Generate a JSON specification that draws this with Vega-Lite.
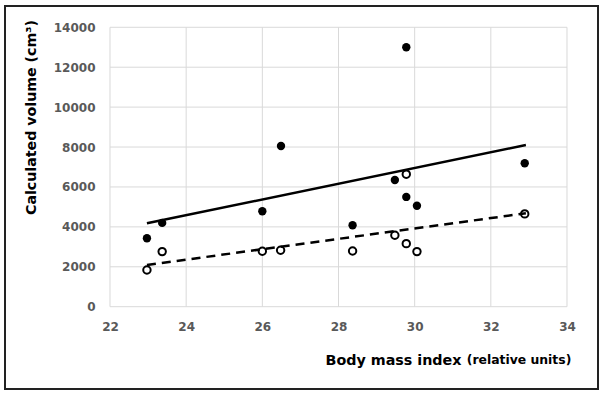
{
  "$schema": "https://vega.github.io/schema/vega-lite/v6.json",
  "autosize": {"type": "none"},
  "width": 593,
  "height": 383,
  "padding": {"left": 5, "top": 6, "right": 7, "bottom": 6},
  "background": "white",
  "config": {
    "view": {"stroke": "#222222", "strokeWidth": 2},
    "font": "DejaVu Sans"
  },
  "datasets": {
    "points": [
      {"bmi": 22.97, "volume": 3430, "group": "filled"},
      {"bmi": 23.37, "volume": 4200, "group": "filled"},
      {"bmi": 26.0, "volume": 4780, "group": "filled"},
      {"bmi": 26.49, "volume": 8050, "group": "filled"},
      {"bmi": 28.37, "volume": 4080, "group": "filled"},
      {"bmi": 29.48, "volume": 6350, "group": "filled"},
      {"bmi": 29.78, "volume": 13000, "group": "filled"},
      {"bmi": 29.78, "volume": 5500, "group": "filled"},
      {"bmi": 30.06, "volume": 5060, "group": "filled"},
      {"bmi": 32.89, "volume": 7190, "group": "filled"},
      {"bmi": 22.97, "volume": 1840, "group": "open"},
      {"bmi": 23.37, "volume": 2760, "group": "open"},
      {"bmi": 26.0, "volume": 2780, "group": "open"},
      {"bmi": 26.48, "volume": 2830, "group": "open"},
      {"bmi": 28.37, "volume": 2790, "group": "open"},
      {"bmi": 29.48, "volume": 3580, "group": "open"},
      {"bmi": 29.78, "volume": 6640, "group": "open"},
      {"bmi": 29.78, "volume": 3160, "group": "open"},
      {"bmi": 30.06, "volume": 2760, "group": "open"},
      {"bmi": 32.89, "volume": 4650, "group": "open"}
    ],
    "trend": [
      {"bmi": 22.97, "volume": 4180, "group": "filled"},
      {"bmi": 32.92, "volume": 8100, "group": "filled"},
      {"bmi": 22.97, "volume": 2090, "group": "open"},
      {"bmi": 32.92, "volume": 4680, "group": "open"}
    ],
    "vgrid": [{"bmi": 22}, {"bmi": 24}, {"bmi": 26}, {"bmi": 28}, {"bmi": 30}, {"bmi": 32}, {"bmi": 34}],
    "hgrid": [{"volume": 0}, {"volume": 2000}, {"volume": 4000}, {"volume": 6000}, {"volume": 8000}, {"volume": 10000}, {"volume": 12000}, {"volume": 14000}],
    "note": [{"label": "(relative units)"}]
  },
  "layer": [
    {
      "data": {"name": "vgrid"},
      "mark": {"type": "rule", "color": "#d9d9d9", "strokeWidth": 1},
      "encoding": {
        "x": {"field": "bmi", "type": "quantitative"},
        "y": {"datum": 0, "type": "quantitative"},
        "y2": {"datum": 14000}
      }
    },
    {
      "data": {"name": "hgrid"},
      "mark": {"type": "rule", "color": "#d9d9d9", "strokeWidth": 1},
      "encoding": {
        "y": {"field": "volume", "type": "quantitative"},
        "x": {"datum": 22, "type": "quantitative"},
        "x2": {"datum": 34}
      }
    },
    {
      "data": {"name": "points"},
      "transform": [{"filter": "datum.group === 'open'"}],
      "mark": {"type": "point", "shape": "circle", "filled": false, "fill": "white", "fillOpacity": 1, "stroke": "black", "strokeWidth": 2, "size": 55, "opacity": 1},
      "encoding": {
        "x": {"field": "bmi", "type": "quantitative"},
        "y": {"field": "volume", "type": "quantitative"}
      }
    },
    {
      "data": {"name": "points"},
      "transform": [{"filter": "datum.group === 'filled'"}],
      "mark": {"type": "circle", "color": "black", "size": 70, "opacity": 1},
      "encoding": {
        "x": {
          "field": "bmi", "type": "quantitative",
          "scale": {"domain": [19.243, 34.814], "nice": false, "zero": false},
          "axis": {
            "orient": "bottom", "offset": -82, "values": [22, 24, 26, 28, 30, 32, 34], "format": "d",
            "grid": false, "domain": false, "ticks": false,
            "labelPadding": 14, "labelFontSize": 12, "labelFontWeight": "bold", "labelColor": "#595959",
            "labelFont": "DejaVu Sans",
            "title": "Body mass index", "titleFont": "DejaVu Sans", "titleFontSize": 14.3, "titleFontWeight": "bold", "titleColor": "black",
            "titleX": 320, "titleY": 57, "titleAlign": "left", "titleBaseline": "alphabetic"
          }
        },
        "y": {
          "field": "volume", "type": "quantitative",
          "scale": {"domain": [-4124, 15067], "nice": false, "zero": false},
          "axis": {
            "orient": "left", "offset": -105, "values": [0, 2000, 4000, 6000, 8000, 10000, 12000, 14000], "format": "d",
            "grid": false, "domain": false, "ticks": false,
            "labelPadding": 15, "labelFontSize": 12, "labelFontWeight": "bold", "labelColor": "#595959",
            "labelFont": "DejaVu Sans",
            "title": "Calculated volume (cm³)", "titleFont": "DejaVu Sans", "titleFontSize": 14.2, "titleFontWeight": "bold", "titleColor": "black",
            "titleX": -79, "titleY": 111, "titleAlign": "center", "titleBaseline": "middle", "titleAngle": -90
          }
        }
      }
    },
    {
      "data": {"name": "trend"},
      "transform": [{"filter": "datum.group === 'filled'"}],
      "mark": {"type": "line", "color": "black", "strokeWidth": 2.5},
      "encoding": {
        "x": {"field": "bmi", "type": "quantitative"},
        "y": {"field": "volume", "type": "quantitative"}
      }
    },
    {
      "data": {"name": "trend"},
      "transform": [{"filter": "datum.group === 'open'"}],
      "mark": {"type": "line", "color": "black", "strokeWidth": 2.5, "strokeDash": [9, 6]},
      "encoding": {
        "x": {"field": "bmi", "type": "quantitative"},
        "y": {"field": "volume", "type": "quantitative"}
      }
    },
    {
      "data": {"name": "note"},
      "mark": {"type": "text", "font": "DejaVu Sans", "fontSize": 12.4, "fontWeight": "bold", "color": "black", "align": "left", "baseline": "alphabetic"},
      "encoding": {
        "x": {"datum": 31.367, "type": "quantitative"},
        "y": {"datum": -2872, "type": "quantitative"},
        "text": {"field": "label"}
      }
    }
  ]
}
